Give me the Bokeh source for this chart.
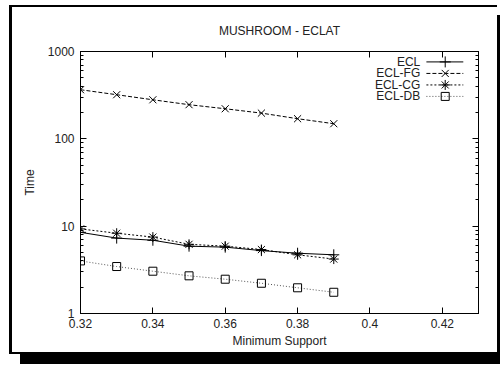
from bokeh.plotting import figure
from bokeh.models import LogAxis, LinearAxis, FixedTicker, LogTicker, Range1d, ColumnDataSource
from bokeh.core.properties import value
from bokeh.embed import file_html
from bokeh.resources import INLINE

FONT = "Liberation Sans"

support = [0.32, 0.33, 0.34, 0.35, 0.36, 0.37, 0.38, 0.39]
ecl    = [8.5, 7.3, 6.9, 5.9, 5.75, 5.25, 4.9, 4.7]
ecl_fg = [365, 320, 280, 246, 221, 197, 170, 149]
ecl_cg = [9.3, 8.3, 7.5, 6.2, 5.9, 5.4, 4.7, 4.2]
ecl_db = [4.0, 3.45, 3.05, 2.7, 2.47, 2.22, 1.97, 1.75]

x_ticks = [0.32, 0.34, 0.36, 0.38, 0.40, 0.42]
x_tick_labels = {0.32: "0.32", 0.34: "0.34", 0.36: "0.36", 0.38: "0.38", 0.4: "0.4", 0.42: "0.42"}
y_ticks = [1, 10, 100, 1000]
y_tick_labels = {1: "1", 10: "10", 100: "100", 1000: "1000"}

series_names = ["ECL", "ECL-FG", "ECL-CG", "ECL-DB"]
series_values = [ecl, ecl_fg, ecl_cg, ecl_db]
series_dash = ["solid", "4 2", "2 2", "1 2"]
series_line_color = ["black", "black", "black", "#555555"]
series_marker = ["cross", "x", "asterisk", "square"]
series_marker_size = [11, 10, 10, 8]

# legend placement (data space)
legend_text_x = 0.4139
legend_line_x0 = 0.4156
legend_line_x1 = 0.4258
legend_marker_x = 0.4208
legend_rows_y = [760, 561, 414, 306]

p = figure(width=488, height=349, x_axis_type="linear", y_axis_type="log",
           x_range=Range1d(0.32, 0.43), y_range=Range1d(1, 1000),
           output_backend="svg", toolbar_location=None,
           min_border_left=68, min_border_right=22, min_border_top=44, min_border_bottom=43,
           title="MUSHROOM - ECLAT")
p.styles = {"position": "relative", "left": "9px", "top": "5px",
            "border-left": "3px solid black", "border-top": "2px solid black",
            "border-bottom": "2px solid black", "box-shadow": "11px 10px 0 0 black"}

p.title.align = "center"
p.title.text_font = FONT
p.title.text_font_size = "12px"
p.title.text_font_style = "normal"
p.title.text_color = "#222222"
p.title.standoff = 27

p.xgrid.visible = False
p.ygrid.visible = False
p.outline_line_color = "black"
p.outline_line_width = 1
p.background_fill_color = "white"
p.border_fill_color = "white"

def style_axis(ax, labels):
    ax.major_tick_in = 6
    ax.major_tick_out = 0
    ax.minor_tick_in = 3
    ax.minor_tick_out = 0
    ax.axis_line_color = "black"
    ax.major_tick_line_color = "black"
    ax.minor_tick_line_color = "black"
    ax.major_label_text_font = FONT
    ax.major_label_text_font_size = "12px"
    ax.major_label_text_color = "#222222"
    ax.axis_label_text_font = FONT
    ax.axis_label_text_font_size = "12px"
    ax.axis_label_text_font_style = "normal"
    ax.axis_label_text_color = "#222222"
    ax.major_label_overrides = labels

xa = p.xaxis[0]
xa.ticker = FixedTicker(ticks=x_ticks)
xa.axis_label = "Minimum Support"
style_axis(xa, x_tick_labels)
xa.minor_tick_line_color = None
xa.major_label_standoff = 5
xa.axis_label_standoff = 3

ya = p.yaxis[0]
ya.ticker = LogTicker(num_minor_ticks=10, desired_num_ticks=4)
ya.axis_label = "Time"
style_axis(ya, y_tick_labels)
ya.major_label_standoff = 6
ya.axis_label_standoff = 8

# mirrored tick marks on the top and right edges (gnuplot style)
xt = LinearAxis(ticker=FixedTicker(ticks=x_ticks))
style_axis(xt, {t: "" for t in x_ticks})
xt.minor_tick_line_color = None
xt.major_label_standoff = 0
xt.major_label_text_font_size = "1px"
p.add_layout(xt, "above")

yr = LogAxis(ticker=LogTicker(num_minor_ticks=10, desired_num_ticks=4))
style_axis(yr, {t: "" for t in y_ticks})
yr.major_label_standoff = 0
yr.major_label_text_font_size = "1px"
p.add_layout(yr, "right")

for name, vals, dash, lc, mk, ms in zip(series_names, series_values, series_dash,
                                        series_line_color, series_marker, series_marker_size):
    src = ColumnDataSource(dict(x=support, y=vals))
    p.line("x", "y", source=src, line_color=lc, line_dash=dash, line_width=1)
    p.scatter("x", "y", source=src, marker=mk, size=ms, fill_color=None,
              line_color="black", line_width=1)

# manual gnuplot-style legend (label left, sample right)
for name, ly, dash, lc, mk, ms in zip(series_names, legend_rows_y, series_dash,
                                      series_line_color, series_marker, series_marker_size):
    p.text(x=[legend_text_x], y=[ly], text=[name], text_font=value(FONT),
           text_font_size="12px", text_align="right", text_baseline="middle",
           text_color="#222222")
    p.line(x=[legend_line_x0, legend_line_x1], y=[ly, ly], line_color=lc,
           line_dash=dash, line_width=1)
    p.scatter(x=[legend_marker_x], y=[ly], marker=mk, size=ms, fill_color=None,
              line_color="black", line_width=1)

open("out.html", "w").write(file_html(p, INLINE))
